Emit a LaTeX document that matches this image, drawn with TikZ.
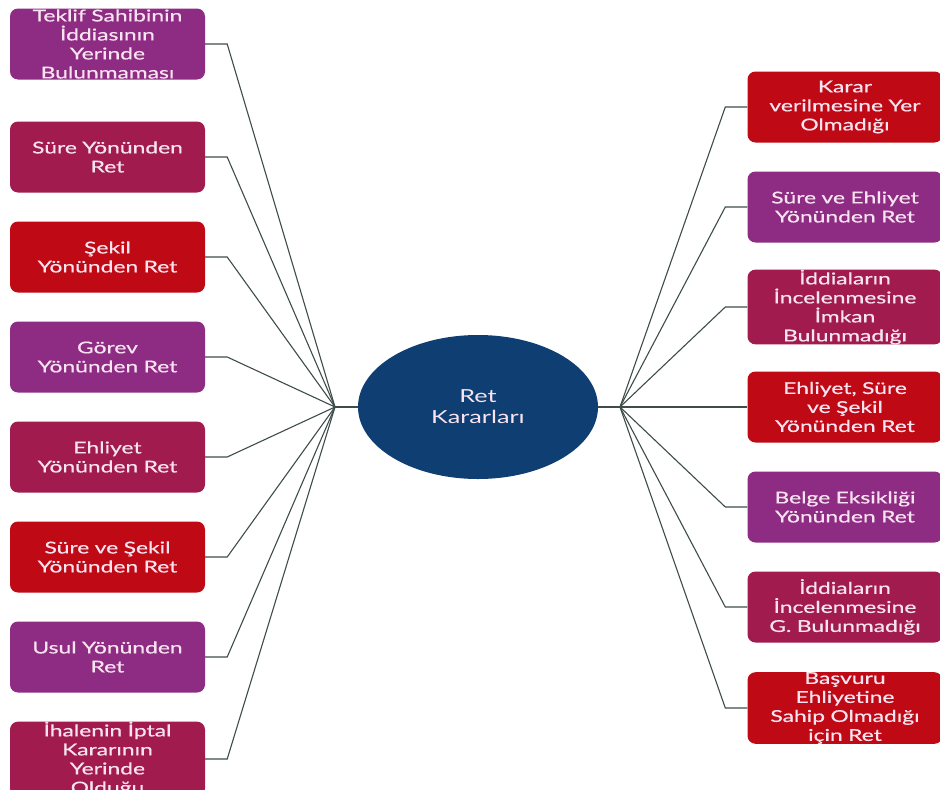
\documentclass[tikz,border=0pt]{standalone}
\usepackage{fontspec}
\setmainfont[FakeStretch=1.4]{Lato}
\newfontfamily\boxfont[FakeStretch=1.4,FakeBold=0.6]{Lato}
\usetikzlibrary{shapes.geometric}
\definecolor{cpurple}{HTML}{8E2C84}
\definecolor{ccrimson}{HTML}{A11B4E}
\definecolor{cred}{HTML}{BF0A16}
\definecolor{cnavy}{HTML}{0F3E73}
\definecolor{ctext}{HTML}{F8E4F0}
\definecolor{cline}{HTML}{3E4D4A}
\tikzset{
  box/.style={rounded corners=8pt, minimum width=195pt, minimum height=71pt,
    text width=190pt, align=center, inner sep=0pt, text=ctext,
    font=\boxfont\fontsize{16.3}{19}\selectfont},
  bpurple/.style={box, fill=cpurple},
  bcrimson/.style={box, fill=ccrimson},
  bred/.style={box, fill=cred},
  link/.style={draw=cline, line width=1.1pt},
}
\begin{document}
\begin{tikzpicture}[x=1pt,y=-1pt]
\useasboundingbox (0,0) rectangle (940,790);
\clip (0,0) rectangle (940,790);
\fill[white] (0,0) rectangle (940,790);
% centre
\node[ellipse, fill=cnavy, minimum width=240pt, minimum height=144pt, inner sep=0pt,
  text=ctext, align=center, font=\fontsize{18}{21}\selectfont] (C) at (478,407) {Ret\\Kararları};
\coordinate (hl) at (335,407);
\coordinate (hr) at (620,407);
% left boxes
\node[bpurple]  (L1) at (107.5,44)  {Teklif Sahibinin\\İddiasının\\Yerinde\\Bulunmaması};
\node[bcrimson] (L2) at (107.5,157) {Süre Yönünden\\Ret};
\node[bred]     (L3) at (107.5,257) {Şekil\\Yönünden Ret};
\node[bpurple]  (L4) at (107.5,357) {Görev\\Yönünden Ret};
\node[bcrimson] (L5) at (107.5,457) {Ehliyet\\Yönünden Ret};
\node[bred]     (L6) at (107.5,557) {Süre ve Şekil\\Yönünden Ret};
\node[bpurple]  (L7) at (107.5,657) {Usul Yönünden\\Ret};
\node[bcrimson] (L8) at (107.5,759) {İhalenin İptal\\Kararının\\Yerinde\\Olduğu};
% right boxes
\node[bred]     (R1) at (845,107) {Karar\\verilmesine Yer\\Olmadığı};
\node[bpurple]  (R2) at (845,207) {Süre ve Ehliyet\\Yönünden Ret};
\node[bcrimson] (R3) at (845,307) {İddiaların\\İncelenmesine\\İmkan\\Bulunmadığı};
\node[bred]     (R4) at (845,407) {Ehliyet, Süre\\ve Şekil\\Yönünden Ret};
\node[bpurple]  (R5) at (845,507) {Belge Eksikliği\\Yönünden Ret};
\node[bcrimson] (R6) at (845,607) {İddiaların\\İncelenmesine\\G. Bulunmadığı};
\node[bred]     (R7) at (845,708) {Başvuru\\Ehliyetine\\Sahip Olmadığı\\için Ret};
% connectors
\draw[link] (C.west) -- (hl);
\draw[link] (C.east) -- (hr);
\foreach \n in {L1,L2,L3,L4,L5,L6,L7,L8}
  \draw[link] (\n.east) -- ++(22,0) -- (hl);
\foreach \n in {R1,R2,R3,R4,R5,R6,R7}
  \draw[link] (\n.west) -- ++(-22,0) -- (hr);
\end{tikzpicture}
\end{document}
